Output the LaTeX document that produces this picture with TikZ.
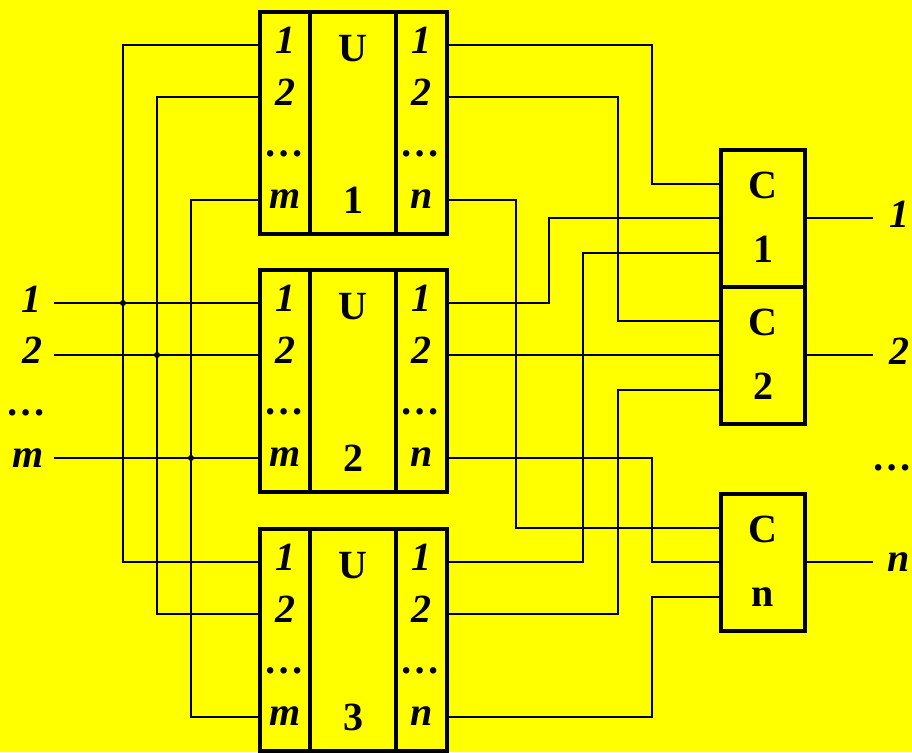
\documentclass[tikz,border=0pt]{standalone}
\usepackage{fontspec}
\setmainfont{Liberation Serif}
\usetikzlibrary{positioning}

\definecolor{bgyellow}{RGB}{255,255,0}
\tikzset{
  blk/.style={draw, line width=4pt, minimum height=222pt, inner sep=0pt, outer sep=0pt},
  cblk/.style={draw, line width=4pt, minimum width=84pt, minimum height=137pt, inner sep=0pt, outer sep=0pt},
  wire/.style={line width=2pt},
  pinlbl/.style={font=\fontsize{40}{40}\selectfont\bfseries\itshape, anchor=base, inner sep=0pt},
  namelbl/.style={font=\fontsize{40}{40}\selectfont\bfseries, anchor=base, inner sep=0pt},
  junction/.style={circle, fill, inner sep=0pt, minimum size=6pt},
}

\begin{document}
\begin{tikzpicture}[x=1pt, y=-1pt]
    \fill[bgyellow, use as bounding box] (0,0) rectangle (912,752);

    % bus columns
    \coordinate (ileft) at (54,0);
    \coordinate (bL1) at (123,0);
    \coordinate (bL2) at (157,0);
    \coordinate (bLm) at (191,0);
    \coordinate (bA) at (516,0);
    \coordinate (bB) at (549,0);
    \coordinate (bC) at (583,0);
    \coordinate (bD) at (618,0);
    \coordinate (bE) at (652,0);

    % U blocks
    \foreach \k/\ytop in {1/12, 2/270, 3/529} {
        \node[blk, minimum width=50pt, anchor=north] (u\k-l) at (285,\ytop) {};
        \node[blk, minimum width=86pt, right=0pt of u\k-l] (u\k-c) {};
        \node[blk, minimum width=51pt, right=0pt of u\k-c] (u\k-r) {};
        \path (u\k-l.north west) ++(0,33) coordinate (u\k-in1)
            ++(0,52) coordinate (u\k-in2) ++(0,103) coordinate (u\k-inm);
        \path (u\k-r.north east) ++(0,33) coordinate (u\k-out1)
            ++(0,52) coordinate (u\k-out2) ++(0,103) coordinate (u\k-outn);
        \foreach \side/\last in {l/m, r/n}
            \path (u\k-\side.north) ++(0,41) node[pinlbl] {1}
                ++(0,52) node[pinlbl] {2} ++(0,51) node[pinlbl] {\ldots}
                ++(0,52) node[pinlbl] {\last};
        \path (u\k-c.north) ++(0,49) node[namelbl] {U} ++(0,152) node[namelbl] {\k};
    }

    % C blocks
    \node[cblk] (c1) at (763,218) {};
    \node[cblk, below=0pt of c1] (c2) {};
    \node[cblk] (cn) at (763,562) {};
    \foreach \j in {1,2,n} {
        \path (c\j.west) ++(0,-34.5) coordinate (c\j-a)
            ++(0,34.5) coordinate (c\j-b) ++(0,34.5) coordinate (c\j-c);
        \draw[wire] (c\j.east) -- ++(68,0) coordinate (o\j);
        \path (c\j.center) ++(0,-19.5) node[namelbl] {C} ++(0,63.5) node[namelbl] {\j};
        \path (o\j) ++(26,9.5) node[pinlbl] {\j};
    }
    \node[pinlbl] (odots) at (893,470) {\ldots};

    % inputs
    \foreach \r in {1,2,m} {
        \coordinate (i\r) at (u2-in\r -| ileft);
        \draw[wire] (i\r) -- (u2-in\r);
        \draw[wire] (u1-in\r) -| (bL\r |- u3-in\r) -- (u3-in\r);
        \node[junction] at (u2-in\r -| bL\r) {};
    }
    \path (i1) ++(-23,9) node[pinlbl] {1};
    \path (i2) ++(-22,8) node[pinlbl] {2};
    \path (im) ++(-26,-43) node[pinlbl] {\ldots};
    \path (im) ++(-26,9) node[pinlbl] {m};

    % outputs to C blocks
    \foreach \from/\bus/\to in {u1-out1/bE/c1-a, u1-out2/bD/c2-a, u1-outn/bA/cn-a,
        u2-out1/bB/c1-b, u2-outn/bE/cn-b,
        u3-out1/bC/c1-c, u3-out2/bD/c2-c, u3-outn/bE/cn-c}
        \draw[wire] (\from) -| (\bus |- \to) -- (\to);
    \draw[wire] (u2-out2) -- (c2-b);
\end{tikzpicture}
\end{document}
